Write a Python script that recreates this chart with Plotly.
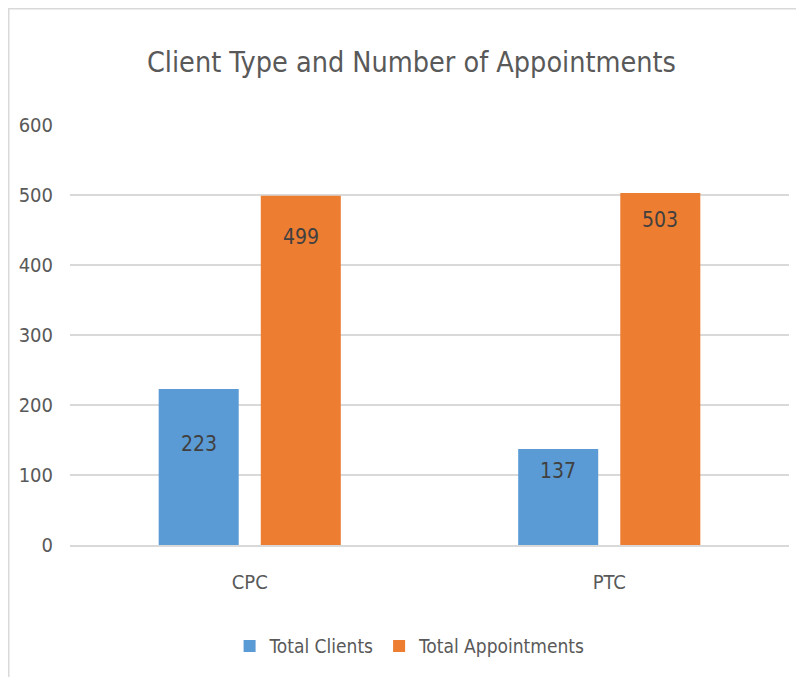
import plotly.graph_objects as go

categories = ["CPC", "PTC"]
total_clients = [223, 137]
total_appointments = [499, 503]
series_names = ["Total Clients", "Total Appointments"]
y_ticks = [0, 100, 200, 300, 400, 500, 600]

# label placement (pixels below the bar top)
clients_label_drop = [55, 22]
appts_label_drop = [41, 27]

FONT = "DejaVu Sans Condensed, Liberation Sans Narrow, sans-serif"
BLUE = "#5B9BD5"
ORANGE = "#ED7D31"
GRID = "#D9D9D9"
TXT = "#595959"

W, H = 788, 669
ML, MR, MT, MB = 62, 7, 117, 132
PW = W - ML - MR
PH = H - MT - MB
BARGAP = 0.432
GROUPGAP = 0.216

fig = go.Figure()
fig.add_trace(go.Bar(x=categories, y=total_clients, name=series_names[0],
                     marker=dict(color=BLUE, line=dict(width=0))))
fig.add_trace(go.Bar(x=categories, y=total_appointments, name=series_names[1],
                     marker=dict(color=ORANGE, line=dict(width=0))))

slot_px = (1 - BARGAP) * (PW / len(categories)) / 2
annotations = []
for series, drops, sign in ((total_clients, clients_label_drop, -1),
                            (total_appointments, appts_label_drop, 1)):
    for cat, val, d in zip(categories, series, drops):
        annotations.append(dict(x=cat, y=val, xref="x", yref="y", text=str(val),
                                showarrow=False, xshift=sign * slot_px / 2, yshift=-d,
                                yanchor="middle",
                                font=dict(family=FONT, size=21, color="#404040")))

bx0 = -ML / PW
bx1 = (W - ML) / PW
by_top = 1 + MT / PH
by_bot = -MB / PH
shapes = [
    dict(type="line", xref="paper", yref="paper", x0=bx0, x1=bx1,
         y0=by_top - 0.5 / PH, y1=by_top - 0.5 / PH, line=dict(color=GRID, width=2)),
    dict(type="line", xref="paper", yref="paper", x0=bx0 + 0.5 / PW, x1=bx0 + 0.5 / PW,
         y0=by_top, y1=by_bot, line=dict(color=GRID, width=2)),
]

fig.update_layout(
    width=W, height=H,
    margin=dict(l=ML, r=MR, t=MT, b=MB, pad=0),
    paper_bgcolor="white", plot_bgcolor="white",
    barmode="group", bargap=BARGAP, bargroupgap=GROUPGAP,
    title=dict(text="Client Type and Number of Appointments", x=0.512, y=0.919,
               xanchor="center", yanchor="middle",
               font=dict(family=FONT, size=28.5, color=TXT)),
    font=dict(family=FONT, size=20, color=TXT),
    xaxis=dict(showgrid=False, showline=True, linecolor=GRID, linewidth=2,
               ticks="", ticklabelstandoff=18, tickfont=dict(size=20, color=TXT)),
    yaxis=dict(range=[0, 600], tickvals=y_ticks, showgrid=True, gridcolor=GRID,
               gridwidth=1.5, zeroline=False, showline=False, ticks="",
               ticklabelstandoff=16, tickfont=dict(size=20, color=TXT)),
    legend=dict(orientation="h", x=0.473, y=-0.241, xanchor="center", yanchor="middle",
                font=dict(size=19, color=TXT), itemclick=False, itemwidth=30,
                tracegroupgap=0),
    showlegend=True,
    annotations=annotations,
    shapes=shapes,
)

fig.write_html("out.html")
